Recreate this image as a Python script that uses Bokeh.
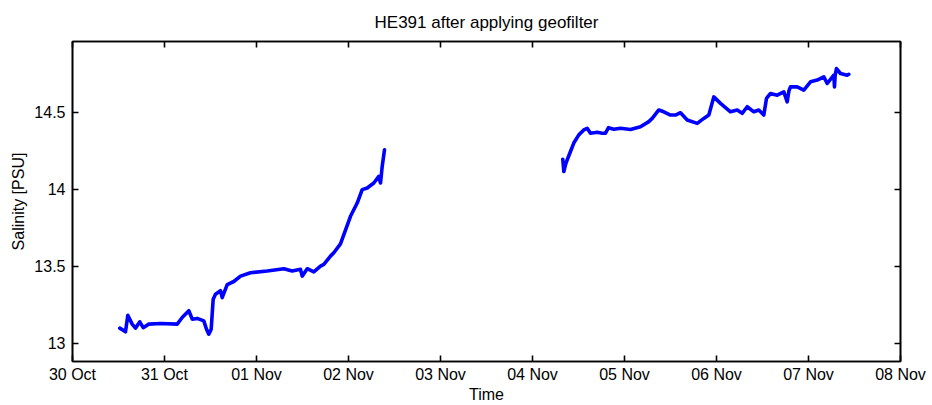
from datetime import datetime, timedelta

from bokeh.embed import file_html
from bokeh.resources import INLINE
from bokeh.plotting import figure
from bokeh.models import (Range1d, FixedTicker, DatetimeTickFormatter, DaysTicker,
                          LinearAxis, DatetimeAxis, ColumnDataSource)

# ---- data (hours since 30 Oct 00:00, salinity in PSU) ----
seg1_hours = [12.34, 13.83, 14.43, 15.57, 16.43, 17.56, 18.44, 19.90, 22.96, 27.31,
              28.62, 30.34, 31.23, 32.53, 34.25, 34.96, 35.56, 36.18, 36.70, 37.30,
              38.61, 39.05, 40.36, 42.08, 43.83, 46.43, 50.79, 55.12, 57.31, 59.48,
              59.92, 61.23, 62.95, 64.70, 65.56, 67.30, 68.17, 69.91, 72.52, 74.27,
              75.57, 76.88, 78.60, 79.90, 80.35, 80.79, 81.39]
seg1_salinity = [13.097, 13.073, 13.18, 13.123, 13.097, 13.138, 13.10, 13.123, 13.127, 13.123,
                 13.166, 13.21, 13.155, 13.16, 13.144, 13.09, 13.058, 13.09, 13.285, 13.317,
                 13.34, 13.295, 13.38, 13.40, 13.435, 13.457, 13.468, 13.483, 13.468, 13.479,
                 13.435, 13.483, 13.462, 13.50, 13.511, 13.565, 13.587, 13.645, 13.824, 13.91,
                 13.997, 14.008, 14.04, 14.083, 14.04, 14.148, 14.256]

seg2_hours = [127.90, 128.17, 128.61, 129.05, 129.91, 130.77, 132.08, 133.38, 134.27, 135.13,
              136.43, 136.88, 138.18, 139.04, 139.83, 141.21, 142.96, 145.57, 148.17, 150.34,
              151.23, 152.95, 154.25, 156.00, 157.30, 158.61, 160.36, 162.97, 164.69, 166.00,
              167.30, 169.04, 171.65, 173.40, 174.70, 176.01, 177.73, 179.03, 180.34, 181.04,
              182.09, 183.84, 185.56, 186.44, 186.90, 187.30, 189.05, 190.77, 192.52, 194.27,
              196.00, 196.88, 198.60, 198.78, 198.95, 199.30, 200.35, 202.10, 202.51]
seg2_salinity = [14.195, 14.115, 14.159, 14.19, 14.245, 14.30, 14.353, 14.385, 14.396, 14.364,
                 14.368, 14.37, 14.364, 14.364, 14.40, 14.39, 14.396, 14.388, 14.406, 14.439,
                 14.46, 14.515, 14.503, 14.482, 14.482, 14.497, 14.45, 14.428, 14.46, 14.482,
                 14.60, 14.558, 14.503, 14.515, 14.493, 14.536, 14.503, 14.515, 14.482, 14.59,
                 14.622, 14.611, 14.633, 14.568, 14.64, 14.665, 14.665, 14.644, 14.698, 14.709,
                 14.73, 14.687, 14.741, 14.665, 14.74, 14.784, 14.752, 14.741, 14.747]

y_ticks = [13, 13.5, 14, 14.5]
y_tick_labels = ["13", "13.5", "14", "14.5"]

title_text = "HE391 after applying geofilter"
x_label = "Time"
y_label = "Salinity [PSU]"

t0 = datetime(2012, 10, 30)
x_start = t0
x_end = t0 + timedelta(days=9)

FONT = "Liberation Sans"
TICK_SIZE = "16px"

p = figure(width=930, height=405, output_backend="svg", toolbar_location=None,
           x_axis_type="datetime",
           x_range=Range1d(x_start, x_end), y_range=Range1d(12.88, 14.96),
           min_border_left=72, min_border_right=30, min_border_top=41,
           min_border_bottom=43)

for hrs, sal in ((seg1_hours, seg1_salinity), (seg2_hours, seg2_salinity)):
    src = ColumnDataSource(dict(t=[t0 + timedelta(hours=h) for h in hrs], s=sal))
    p.line("t", "s", source=src, line_color="#0000ff", line_width=3.6,
           line_join="round", line_cap="round")

p.title.text = title_text
p.title.align = "center"
p.title.text_font = FONT
p.title.text_font_style = "normal"
p.title.text_font_size = "17px"
p.title.text_color = "black"
p.title.standoff = 20

p.xgrid.visible = False
p.ygrid.visible = False
p.outline_line_color = "black"
p.outline_line_width = 1.6
p.background_fill_color = "white"
p.border_fill_color = "white"

day_ticker = DaysTicker(days=list(range(1, 32)))
fmt = DatetimeTickFormatter(days="%d %b", months="%d %b", hours="%d %b")

xa = p.xaxis[0]
xa.ticker = day_ticker
xa.formatter = fmt
xa.axis_label = x_label

ya = p.yaxis[0]
ya.ticker = FixedTicker(ticks=y_ticks)
ya.major_label_overrides = {t: l for t, l in zip(y_ticks, y_tick_labels)}
ya.axis_label = y_label

for ax in (xa, ya):
    ax.major_tick_in = 6
    ax.major_tick_out = 0
    ax.minor_tick_in = 0
    ax.minor_tick_out = 0
    ax.major_tick_line_color = "black"
    ax.major_tick_line_width = 1.6
    ax.axis_line_color = "black"
    ax.axis_line_width = 1.6
    ax.major_label_text_font = FONT
    ax.major_label_text_font_size = TICK_SIZE
    ax.major_label_text_color = "black"
    ax.axis_label_text_font = FONT
    ax.axis_label_text_font_size = TICK_SIZE
    ax.axis_label_text_font_style = "normal"
    ax.axis_label_text_color = "black"

xa.major_label_standoff = 4
xa.axis_label_standoff = 0
ya.major_label_standoff = 7
ya.axis_label_standoff = 4

right = LinearAxis(ticker=FixedTicker(ticks=y_ticks))
top = DatetimeAxis(ticker=DaysTicker(days=list(range(1, 32))))
for ax in (right, top):
    ax.major_tick_in = 6
    ax.major_tick_out = 0
    ax.minor_tick_in = 0
    ax.minor_tick_out = 0
    ax.major_tick_line_color = "black"
    ax.major_tick_line_width = 1.6
    ax.axis_line_color = "black"
    ax.axis_line_width = 1.6
    ax.major_label_text_font_size = "0px"
    ax.major_label_text_alpha = 0
    ax.major_label_standoff = 0
p.add_layout(right, "right")
p.add_layout(top, "above")

open("out.html", "w").write(file_html(p, INLINE))
